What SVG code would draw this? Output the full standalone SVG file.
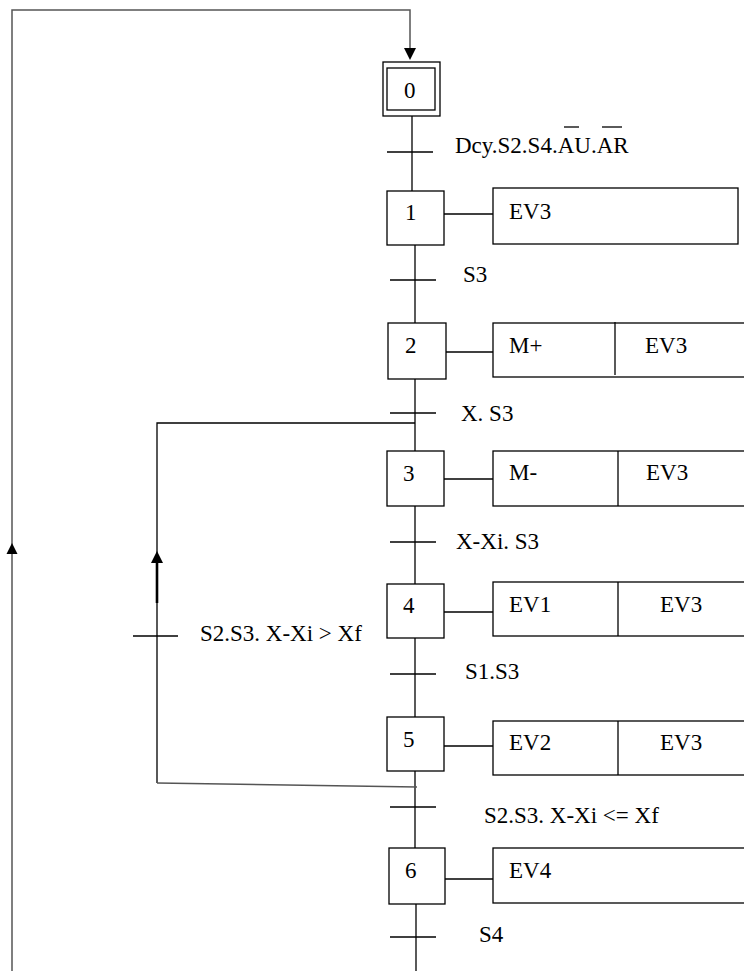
<svg xmlns="http://www.w3.org/2000/svg" width="744" height="971" viewBox="0 0 744 971">
<style>
.ln{stroke:#000;stroke-width:1.3;fill:none}
.gr{stroke:#555;stroke-width:1.5;fill:none}
.bx{stroke:#000;stroke-width:1.3;fill:#fff}
.t{font-family:"Liberation Serif","Times New Roman",serif;font-size:23px;fill:#000}
.ah{fill:#000;stroke:none}
</style>
<rect width="744" height="971" fill="#fff"/>
<g id="connectors">
  <polyline class="gr" points="12,971 12,10 410,10 410,50"/>
  <polygon class="ah" points="404,48 416,48 410,60"/>
  <polygon class="ah" points="6.5,554 17.5,554 12,543"/>
  <line class="ln" x1="412" y1="116" x2="412" y2="191"/>
  <line class="ln" x1="415" y1="245" x2="415" y2="323"/>
  <line class="ln" x1="415" y1="379" x2="415" y2="451"/>
  <line class="ln" x1="415" y1="506" x2="415" y2="584"/>
  <line class="ln" x1="415" y1="638" x2="415" y2="717"/>
  <line class="ln" x1="415" y1="771" x2="415" y2="848"/>
  <line class="ln" x1="416" y1="904" x2="416" y2="971"/>
  <polyline class="ln" points="415,423 157,423 157,783"/>
  <line class="gr" x1="157" y1="783" x2="417" y2="787"/>
  <line x1="157" y1="562" x2="157" y2="603" stroke="#000" stroke-width="2.6"/>
  <polygon class="ah" points="151,563 163,563 157,551"/>
  <line class="ln" x1="387" y1="152" x2="433" y2="152"/>
  <line class="ln" x1="390" y1="280" x2="436" y2="280"/>
  <line class="ln" x1="390" y1="413" x2="436" y2="413"/>
  <line class="ln" x1="390" y1="542" x2="436" y2="542"/>
  <line class="ln" x1="390" y1="674" x2="436" y2="674"/>
  <line class="ln" x1="390" y1="807" x2="436" y2="807"/>
  <line class="ln" x1="390" y1="937" x2="436" y2="937"/>
  <line class="ln" x1="133" y1="636" x2="178" y2="636"/>
  <line class="ln" x1="444" y1="214" x2="493" y2="214"/>
  <line class="ln" x1="446" y1="352" x2="493" y2="352"/>
  <line class="ln" x1="444" y1="479" x2="493" y2="479"/>
  <line class="ln" x1="444" y1="612" x2="493" y2="612"/>
  <line class="ln" x1="444" y1="746" x2="493" y2="746"/>
  <line class="ln" x1="445" y1="879" x2="493" y2="879"/>
</g>
<g id="labels">
  <text class="t" x="455" y="153">Dcy.S2.S4.AU.AR</text>
  <line class="ln" x1="564" y1="127" x2="579" y2="127"/>
  <line class="ln" x1="602" y1="127" x2="622" y2="127"/>
  <text class="t" x="463" y="282">S3</text>
  <text class="t" x="461" y="421">X. S3</text>
  <text class="t" x="456" y="549">X-Xi. S3</text>
  <text class="t" x="200" y="641">S2.S3. X-Xi &gt; Xf</text>
  <text class="t" x="465" y="679">S1.S3</text>
  <text class="t" x="484" y="823">S2.S3. X-Xi &lt;= Xf</text>
  <text class="t" x="479" y="942">S4</text>
</g>
<g id="step0">
  <rect class="bx" x="383" y="62" width="57" height="54"/>
  <rect class="bx" x="387" y="68" width="48" height="42"/>
  <text class="t" x="404" y="98">0</text>
</g>
<g id="step1">
  <rect class="bx" x="387" y="191" width="57" height="54"/>
  <text class="t" x="405" y="220">1</text>
</g>
<g id="action1">
  <rect class="bx" x="493" y="188" width="245" height="56"/>
  <text class="t" x="509" y="219">EV3</text>
</g>
<g id="step2">
  <rect class="bx" x="388" y="323" width="58" height="56"/>
  <text class="t" x="405" y="353">2</text>
</g>
<g id="action2">
  <rect class="bx" x="493" y="323" width="253" height="54"/>
  <line class="ln" x1="615" y1="322" x2="615" y2="375"/>
  <text class="t" x="509" y="353">M+</text>
  <text class="t" x="645" y="353">EV3</text>
</g>
<g id="step3">
  <rect class="bx" x="387" y="451" width="57" height="55"/>
  <text class="t" x="403" y="481">3</text>
</g>
<g id="action3">
  <rect class="bx" x="493" y="451" width="253" height="55"/>
  <line class="ln" x1="618" y1="451" x2="618" y2="506"/>
  <text class="t" x="509" y="480">M-</text>
  <text class="t" x="646" y="480">EV3</text>
</g>
<g id="step4">
  <rect class="bx" x="387" y="584" width="57" height="54"/>
  <text class="t" x="403" y="613">4</text>
</g>
<g id="action4">
  <rect class="bx" x="493" y="582" width="253" height="54"/>
  <line class="ln" x1="618" y1="582" x2="618" y2="636"/>
  <text class="t" x="509" y="612">EV1</text>
  <text class="t" x="660" y="612">EV3</text>
</g>
<g id="step5">
  <rect class="bx" x="387" y="717" width="57" height="54"/>
  <text class="t" x="403" y="747">5</text>
</g>
<g id="action5">
  <rect class="bx" x="493" y="721" width="253" height="54"/>
  <line class="ln" x1="618" y1="721" x2="618" y2="775"/>
  <text class="t" x="509" y="750">EV2</text>
  <text class="t" x="660" y="750">EV3</text>
</g>
<g id="step6">
  <rect class="bx" x="389" y="848" width="56" height="56"/>
  <text class="t" x="405" y="878">6</text>
</g>
<g id="action6">
  <rect class="bx" x="493" y="848" width="253" height="55"/>
  <text class="t" x="509" y="878">EV4</text>
</g>
</svg>
